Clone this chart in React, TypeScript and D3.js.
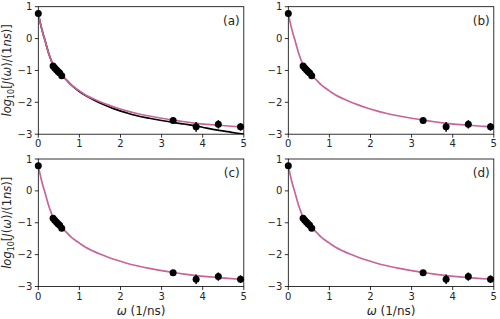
import React from 'react';
import * as d3 from 'd3';

// measured data (omega in 1/ns, log10 J)
const dataX = [0.0, 0.36, 0.4, 0.44, 0.48, 0.52, 0.57, 3.28, 3.84, 4.38, 4.92];
const dataY = [0.79, -0.86, -0.92, -0.98, -1.03, -1.08, -1.17, -2.57, -2.77, -2.69, -2.77];
const dataErr = [0.03, 0.03, 0.03, 0.03, 0.03, 0.03, 0.03, 0.05, 0.15, 0.13, 0.12];

// fitted curves
const fitX = [0, 0.04, 0.08, 0.12, 0.16, 0.2, 0.24, 0.29, 0.34, 0.4, 0.45, 0.52, 0.6, 0.7, 0.8, 0.9, 1.0, 1.15, 1.34, 1.5, 1.7, 1.9, 2.15, 2.4, 2.7, 3.0, 3.28, 3.55, 3.8, 4.1, 4.4, 4.7, 5.0];
const pinkY = [0.79, 0.54, 0.32, 0.13, -0.04, -0.23, -0.41, -0.6, -0.77, -0.91, -1.0, -1.1, -1.19, -1.32, -1.45, -1.55, -1.64, -1.77, -1.89, -1.98, -2.08, -2.17, -2.27, -2.35, -2.43, -2.5, -2.56, -2.61, -2.65, -2.69, -2.72, -2.75, -2.78];
const blackY = [0.79, 0.54, 0.32, 0.13, -0.04, -0.23, -0.41, -0.6, -0.77, -0.91, -1.0, -1.1, -1.19, -1.32, -1.45, -1.56, -1.66, -1.79, -1.92, -2.02, -2.13, -2.23, -2.33, -2.42, -2.5, -2.57, -2.63, -2.68, -2.73, -2.81, -2.88, -2.94, -3.0];

const panelLabels = ['(a)', '(b)', '(c)', '(d)'];
const xTicks = [0, 1, 2, 3, 4, 5];
const yTicks = [1, 0, -1, -2, -3];

const PINK = '#c8649c';
const FONT = 'DejaVu Sans, sans-serif';

const cols = [38.3, 288.3];
const rows = [6.7, 159];
const pw = 205.5;
const ph = 127.5;

const Panel = ({ idx }: { idx: number }) => {
  const left = cols[idx % 2];
  const top = rows[Math.floor(idx / 2)];
  const x = d3.scaleLinear().domain([0, 5]).range([left, left + pw]);
  const y = d3.scaleLinear().domain([-3, 1]).range([top + ph, top]);
  const line = d3
    .line<number>()
    .x((_, i) => x(fitX[i]))
    .y((d) => y(d))
    .curve(d3.curveMonotoneX);
  const fmt = (v: number) => (v < 0 ? `\u2212${Math.abs(v)}` : `${v}`);
  const clipId = `clip${idx}`;
  return (
    <g>
      <defs>
        <clipPath id={clipId}>
          <rect x={left} y={top - 6} width={pw + 6} height={ph + 6} />
        </clipPath>
      </defs>
      <g clipPath={`url(#${clipId})`}>
        {idx === 0 && (
          <path d={line(blackY) || ''} fill="none" stroke="#000" strokeWidth={1.7} />
        )}
        <path d={line(pinkY) || ''} fill="none" stroke={PINK} strokeWidth={1.7} />
      </g>
      {dataX.map((dx, i) => (
        <g key={i}>
          <line
            x1={x(dx)}
            x2={x(dx)}
            y1={y(dataY[i] - dataErr[i])}
            y2={y(dataY[i] + dataErr[i])}
            stroke="#000"
            strokeWidth={1.5}
          />
          <circle cx={x(dx)} cy={y(dataY[i])} r={3.5} fill="#000" />
        </g>
      ))}
      <rect x={left} y={top} width={pw} height={ph} fill="none" stroke="#000" strokeWidth={0.8} />
      {xTicks.map((t) => (
        <g key={'x' + t}>
          <line x1={x(t)} x2={x(t)} y1={top + ph} y2={top + ph + 3.5} stroke="#000" strokeWidth={0.8} />
          <text x={x(t)} y={top + ph + 13} textAnchor="middle" fontSize={10} fontFamily={FONT} fill="#262626">
            {t}
          </text>
        </g>
      ))}
      {yTicks.map((t) => (
        <g key={'y' + t}>
          <line x1={left - 3.5} x2={left} y1={y(t)} y2={y(t)} stroke="#000" strokeWidth={0.8} />
          <text x={left - 6} y={y(t) + 3.5} textAnchor="end" fontSize={10} fontFamily={FONT} fill="#262626">
            {fmt(t)}
          </text>
        </g>
      ))}
      <text x={left + pw - 4} y={top + 18} textAnchor="end" fontSize={12} fontFamily={FONT} fill="#262626">
        {panelLabels[idx]}
      </text>
      {idx % 2 === 0 && (
        <text
          transform={`translate(${left - 27},${top + ph / 2}) rotate(-90)`}
          textAnchor="middle"
          fontSize={11.5}
          fontFamily={FONT}
          fill="#262626"
        >
          <tspan fontStyle="italic">log</tspan>
          <tspan fontSize={8} dy={3}>10</tspan>
          <tspan dy={-3}>[</tspan>
          <tspan fontStyle="italic">J</tspan>
          <tspan>(</tspan>
          <tspan fontStyle="italic">ω</tspan>
          <tspan>)/(1</tspan>
          <tspan fontStyle="italic">ns</tspan>
          <tspan>)]</tspan>
        </text>
      )}
      {idx >= 2 && (
        <text x={left + pw / 2} y={top + ph + 28} textAnchor="middle" fontSize={12} fontFamily={FONT} fill="#262626">
          <tspan fontStyle="italic">ω</tspan>
          <tspan> (1/ns)</tspan>
        </text>
      )}
    </g>
  );
};

export default function App() {
  return (
    <svg width={500} height={319} style={{ position: 'absolute', left: 0, top: 0, background: '#fff' }}>
      {[0, 1, 2, 3].map((i) => (
        <Panel key={i} idx={i} />
      ))}
    </svg>
  );
}
